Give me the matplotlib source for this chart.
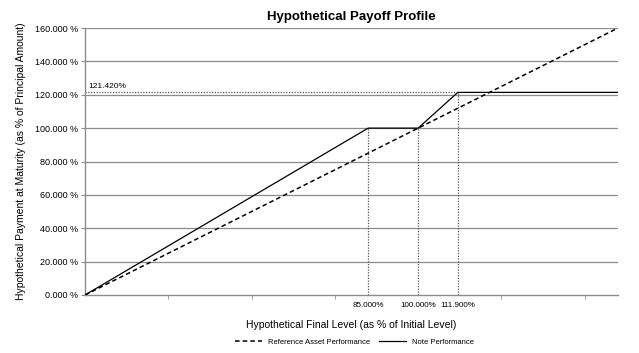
import matplotlib
matplotlib.use("Agg")
import matplotlib.pyplot as plt
from matplotlib.ticker import FixedLocator

plt.rcParams['font.family'] = ['Liberation Sans', 'DejaVu Sans']

# Data
ref_x = [0, 160]
ref_y = [0, 160]
note_x = [0, 85, 100, 111.9, 160]
note_y = [0, 100, 100, 121.42, 121.42]
key_levels = [85, 100, 111.9]
key_labels = ["85.000%", "100.000%", "111.900%"]
cap_value = 121.42
cap_label = "121.420%"
y_ticks = [0, 20, 40, 60, 80, 100, 120, 140, 160]
y_ticklabels = ["%.3f %%" % v for v in y_ticks]
x_minor_ticks = [25, 50, 75, 100, 125, 150]

fig = plt.figure(figsize=(6.39, 3.53), dpi=100)
ax = fig.add_axes([85/639, 1-295/353, (618-85)/639, (295-28)/353])

ax.set_xlim(0, 160)
ax.set_ylim(0, 160)

for v in y_ticks[1:]:
    ax.axhline(v, color="#8c8c8c", lw=0.9, zorder=1)

ax.plot(ref_x, ref_y, color="black", lw=1.1, ls=(0, (3, 2)), zorder=3,
        label="Reference Asset Performance")
ax.plot(note_x, note_y, color="black", lw=0.9, zorder=4, label="Note Performance")

# dotted guides
for xv in key_levels:
    yv = None
    for i in range(len(note_x)):
        if note_x[i] == xv:
            yv = note_y[i]
    ax.plot([xv, xv], [0, yv], color="#555555", lw=0.9, ls=(0, (1, 1.2)), zorder=2)
ax.plot([0, key_levels[-1]], [cap_value, cap_value], color="#555555", lw=0.9,
        ls=(0, (1, 1.2)), zorder=2)
ax.text(1, cap_value + 1.2, cap_label, fontsize=6, va="bottom", ha="left")

ax.set_yticks(y_ticks)
ax.set_yticklabels(y_ticklabels, fontsize=6.5)
ax.set_xticks(key_levels)
ax.set_xticklabels(key_labels, fontsize=5.8)
ax.tick_params(axis="x", length=0, pad=5)
ax.tick_params(axis="y", length=3, color="#8c8c8c", pad=2)
ax.xaxis.set_minor_locator(FixedLocator(x_minor_ticks))
ax.tick_params(axis="x", which="minor", length=3, color="#8c8c8c", direction="out")

for s in ["top", "right"]:
    ax.spines[s].set_visible(False)
for s in ["left", "bottom"]:
    ax.spines[s].set_color("#8c8c8c")
    ax.spines[s].set_linewidth(1.0)

ax.set_title("Hypothetical Payoff Profile", fontsize=9.5, fontweight="bold", pad=6)
ax.set_xlabel("Hypothetical Final Level (as % of Initial Level)", fontsize=7.5, labelpad=8)
ax.set_ylabel("Hypothetical Payment at Maturity (as % of Principal Amount)", fontsize=7.5, labelpad=6)

fig.legend(loc="lower center", bbox_to_anchor=(0.555, 0.0), ncol=2, frameon=False,
           fontsize=5.5, handlelength=3.5, columnspacing=1.2)

fig.savefig("out.png", dpi=100)
